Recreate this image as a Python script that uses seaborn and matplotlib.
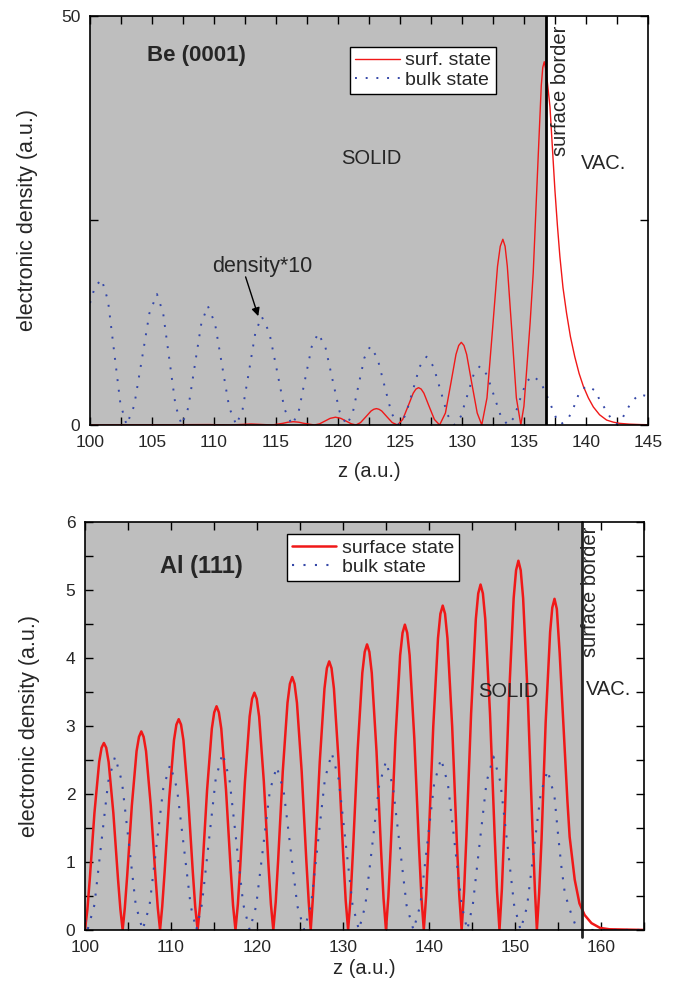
import numpy as np
import pandas as pd
import seaborn as sns
import matplotlib.pyplot as plt
from matplotlib.ticker import MultipleLocator

# ---- Be(0001): surface state (red) and bulk state x10 (blue)
be_surf_z = [100.0, 109.6, 111.3, 113.0, 114.7, 115.55, 115.97, 116.4, 116.83, 117.25, 118.1,
             118.52, 118.95, 119.37, 119.8, 120.23, 120.65, 121.08, 121.45,
             121.82, 122.25, 122.67, 122.89, 123.1, 123.31, 123.53, 123.95, 124.38, 124.8,
             125.22, 125.65, 126.07, 126.29, 126.5, 126.71, 126.93, 127.35, 127.78, 128.2,
             128.67, 129.1, 129.52, 129.74, 129.95, 130.16, 130.38, 130.8, 131.23, 131.6,
             132.02, 132.45, 132.87, 133.09, 133.3, 133.48, 133.66, 134.03, 134.39, 134.75,
             135.0, 135.2, 135.5, 135.75, 136.15, 136.4, 136.52, 136.64, 136.8, 137.1, 137.3,
             137.5, 137.7, 137.9, 138.15, 138.44, 138.75, 139.1, 139.45, 139.8, 140.2, 140.6,
             141.1, 141.67, 142.2, 142.7, 143.5, 144.35, 145.0]
be_surf_n = [0, 0.05, 0, 0.12, 0, 0.2, 0.34, 0.4, 0.34, 0.2, 0,
             0.14, 0.48, 0.81, 0.95, 0.81, 0.48, 0.14, 0,
             0.29, 1.0, 1.71, 1.92, 2.0, 1.92, 1.71, 1.0, 0.29, 0,
             0.67, 2.28, 3.89, 4.39, 4.56, 4.39, 3.89, 2.28, 0.67, 0,
             1.47, 5.05, 8.63, 9.72, 10.1, 9.72, 8.63, 5.05, 1.47, 0,
             3.31, 11.35, 19.39, 21.84, 22.7, 21.84, 19.39, 11.35, 3.31, 0,
             2.3, 6.3, 12.5, 18.6, 32.8, 41.5, 43.7, 44.4, 43.2, 38.9, 33.8,
             28.7, 24.4, 20.6, 16.8, 13.65, 10.8, 8.35, 6.3, 4.7, 3.3, 2.2,
             1.25, 0.6, 0.35, 0.2, 0.1, 0.05, 0.03]

be_bulk_z = [100.0, 100.4, 100.94, 101.45, 101.95, 102.45, 102.95,
             103.56, 104.18, 104.79, 105.4, 105.9, 106.4, 106.9, 107.4,
             107.93, 108.45, 108.98, 109.5, 110.08, 110.65, 111.23, 111.8,
             112.31, 112.83, 113.34, 113.85, 114.46, 115.08, 115.69, 116.3,
             116.83, 117.35, 117.88, 118.4, 118.98, 119.55, 120.13, 120.7,
             121.18, 121.65, 122.13, 122.6, 123.18, 123.75, 124.33, 124.9,
             125.46, 126.03, 126.59, 127.15, 127.71, 128.28, 128.84, 129.4,
             129.91, 130.43, 130.94, 131.45, 132.01, 132.58, 133.14, 133.7,
             134.2, 134.7, 135.2, 135.75, 136.4, 137.0, 137.6, 138.0,
             138.6, 139.0, 139.5, 140.1, 140.8, 141.1, 141.5, 142.0, 142.5,
             142.9, 143.3, 143.7, 144.3, 145.0]
be_bulk_n = [14.9, 16.9, 17.8, 15.2, 8.9, 2.6, 0,
             2.34, 8.0, 13.66, 16.0, 13.66, 8.0, 2.34, 0,
             2.12, 7.28, 12.43, 14.55, 12.43, 7.28, 2.12, 0,
             1.93, 6.63, 11.32, 13.25, 11.32, 6.63, 1.93, 0,
             1.64, 5.6, 9.56, 11.2, 9.56, 5.6, 1.64, 0,
             1.4, 4.8, 8.2, 9.6, 8.2, 4.8, 1.4, 0,
             1.22, 4.18, 7.13, 8.35, 7.13, 4.18, 1.22, 0,
             1.05, 3.6, 6.15, 7.2, 6.15, 3.6, 1.05, 0,
             0.9, 3.2, 5.3, 6.0, 5.1, 3.05, 0.85, 0.1,
             0.85, 2.1, 4.1, 4.8, 4.15, 3.05, 2.1, 0.85, 0.1,
             0.7, 1.85, 2.85, 3.75, 3.5]

# ---- Al(111)
al_surf_z = [100.0,
             100.28, 100.56, 101.1, 101.65, 101.93, 102.2, 102.47, 102.75, 103.3, 103.84, 104.12, 104.38,
             104.63, 104.91, 105.45, 106.0, 106.28, 106.55, 106.82, 107.1, 107.65, 108.19, 108.47, 108.73,
             108.98, 109.26, 109.8, 110.35, 110.63, 110.9, 111.17, 111.45, 112.0, 112.54, 112.82, 113.1,
             113.38, 113.66, 114.2, 114.75, 115.03, 115.3, 115.57, 115.85, 116.4, 116.94, 117.22, 117.5,
             117.78, 118.06, 118.6, 119.15, 119.43, 119.7, 119.97, 120.25, 120.8, 121.34, 121.62, 121.9,
             122.18, 122.46, 123.0, 123.55, 123.83, 124.1, 124.37, 124.65, 125.2, 125.74, 126.02, 126.25,
             126.48, 126.76, 127.3, 127.85, 128.13, 128.4, 128.67, 128.95, 129.5, 130.04, 130.32, 130.6,
             130.88, 131.16, 131.7, 132.25, 132.53, 132.8, 133.07, 133.35, 133.9, 134.44, 134.72, 135.0,
             135.28, 135.56, 136.1, 136.65, 136.93, 137.2, 137.47, 137.75, 138.3, 138.84, 139.12, 139.4,
             139.68, 139.96, 140.5, 141.05, 141.33, 141.6, 141.87, 142.15, 142.7, 143.24, 143.52, 143.8,
             144.08, 144.36, 144.9, 145.45, 145.73, 146.0, 146.27, 146.55, 147.1, 147.64, 147.92, 148.2,
             148.48, 148.76, 149.3, 149.85, 150.13, 150.4, 150.67, 150.95, 151.5, 152.04, 152.32, 152.55,
             152.81, 153.09, 153.57, 154.09, 154.34, 154.6, 154.87, 155.2, 155.5, 155.8, 156.1,
             156.36, 156.95, 157.5, 158.1, 158.9, 159.9, 161.0, 165.0]
al_surf_n = [0,
             0.30, 0.75, 1.72, 2.47, 2.68, 2.75, 2.68, 2.47, 1.72, 0.75, 0.30, 0,
             0.32, 0.80, 1.83, 2.63, 2.84, 2.92, 2.84, 2.63, 1.83, 0.80, 0.32, 0,
             0.34, 0.85, 1.94, 2.79, 3.02, 3.10, 3.02, 2.79, 1.94, 0.85, 0.34, 0,
             0.36, 0.90, 2.06, 2.96, 3.20, 3.29, 3.20, 2.96, 2.06, 0.90, 0.36, 0,
             0.38, 0.95, 2.18, 3.14, 3.40, 3.49, 3.40, 3.14, 2.18, 0.95, 0.38, 0,
             0.41, 1.02, 2.33, 3.34, 3.62, 3.72, 3.62, 3.34, 2.33, 1.02, 0.41, 0,
             0.43, 1.08, 2.47, 3.55, 3.85, 3.95, 3.85, 3.55, 2.47, 1.08, 0.43, 0,
             0.46, 1.15, 2.63, 3.78, 4.09, 4.20, 4.09, 3.78, 2.63, 1.15, 0.46, 0,
             0.49, 1.23, 2.81, 4.04, 4.37, 4.49, 4.37, 4.04, 2.81, 1.23, 0.49, 0,
             0.52, 1.30, 2.99, 4.29, 4.65, 4.77, 4.65, 4.29, 2.99, 1.30, 0.52, 0,
             0.56, 1.39, 3.18, 4.57, 4.95, 5.08, 4.95, 4.57, 3.18, 1.39, 0.56, 0,
             0.60, 1.48, 3.40, 4.88, 5.29, 5.43, 5.29, 4.88, 3.40, 1.48, 0.60, 0,
             0.54, 1.33, 3.05, 4.38, 4.74, 4.87, 4.72, 4.07, 3.35, 2.6, 1.9,
             1.37, 0.74, 0.39, 0.22, 0.1, 0.03, 0.01, 0.0]

al_bulk_z = [100.0, 100.3, 101.1, 101.9, 102.7, 103.5, 104.3, 105.1, 105.9, 106.7,
             107.5, 108.3, 109.1, 109.9, 110.7, 111.5, 112.3, 112.95,
             113.6, 114.4, 115.2, 116.0, 116.8, 117.6, 118.4, 119.15,
             119.9, 120.7, 121.5, 122.3, 123.1, 123.9, 124.7, 125.5,
             126.3, 127.1, 127.9, 128.7, 129.5, 130.3, 131.1, 131.85,
             132.6, 133.4, 134.2, 135.0, 135.8, 136.6, 137.4, 138.2,
             139.0, 139.8, 140.6, 141.4, 142.2, 143.0, 143.8, 144.45,
             145.1, 145.9, 146.7, 147.5, 148.3, 149.1, 149.9, 150.65,
             151.4, 152.2, 153.0, 153.8, 154.6, 155.0, 155.4, 155.8, 156.4, 156.95, 157.3, 165.0]
al_bulk_n = [0.15, 0, 0.37, 1.28, 2.18, 2.55, 2.18, 1.28, 0.37, 0,
             0.35, 1.22, 2.08, 2.43, 2.08, 1.22, 0.35, 0,
             0.38, 1.30, 2.22, 2.60, 2.22, 1.30, 0.38, 0,
             0.35, 1.20, 2.05, 2.40, 2.05, 1.20, 0.35, 0,
             0.38, 1.30, 2.22, 2.60, 2.22, 1.30, 0.38, 0,
             0.36, 1.24, 2.12, 2.48, 2.12, 1.24, 0.36, 0,
             0.37, 1.26, 2.15, 2.52, 2.15, 1.26, 0.37, 0,
             0.37, 1.28, 2.18, 2.55, 2.18, 1.28, 0.37, 0,
             0.34, 1.18, 2.01, 2.35, 1.96, 1.42, 0.93, 0.54, 0.29, 0.1, 0, 0]

be_border = 136.75
al_border = 157.8

sns.set_style("ticks")
plt.rcParams['font.family'] = ['Liberation Sans', 'DejaVu Sans']

RED = '#f01818'
BLUE = '#3548a8'
GREY = '#bebebe'
DOTS = (0, (1, 4.5))

fig = plt.figure(figsize=(6.82, 9.89), dpi=100)
ax1 = fig.add_axes([0.132, 0.5703, 0.818, 0.4136])
ax2 = fig.add_axes([0.1246, 0.0597, 0.8196, 0.4125])

be_surf = pd.DataFrame({'z': be_surf_z, 'n': be_surf_n})
be_bulk = pd.DataFrame({'z': be_bulk_z, 'n': be_bulk_n})
al_surf = pd.DataFrame({'z': al_surf_z, 'n': al_surf_n})
al_bulk = pd.DataFrame({'z': al_bulk_z, 'n': al_bulk_n})

# ---------------- top panel: Be (0001)
ax1.axvspan(100, be_border, color=GREY, lw=0, zorder=0)
sns.lineplot(data=be_surf, x='z', y='n', ax=ax1, color=RED, lw=1.0,
             estimator=None, sort=False, label='surf. state')
sns.lineplot(data=be_bulk, x='z', y='n', ax=ax1, color=BLUE, lw=1.4,
             linestyle=DOTS, estimator=None, sort=False, label='bulk state')
ax1.axvline(be_border, color='black', lw=2)
ax1.set_xlim(100, 145)
ax1.set_ylim(0, 50)
ax1.xaxis.set_major_locator(MultipleLocator(5))
ax1.xaxis.set_minor_locator(MultipleLocator(2.5))
ax1.set_yticks([0, 25, 50])
ax1.set_yticklabels(['0', '', '50'])

ax1.text(108.55, 45.2, 'Be (0001)', fontsize=16, fontweight='bold', ha='center', va='center')
ax1.text(122.7, 32.6, 'SOLID', fontsize=14.5, ha='center', va='center')
ax1.text(141.4, 32.0, 'VAC.', fontsize=14.5, ha='center', va='center')
ax1.text(137.95, 48.8, 'surface border', fontsize=14.5, rotation=90, ha='center', va='top')
ax1.text(113.9, 19.4, 'density*10', fontsize=15.5, ha='center', va='center')
ax1.annotate('', xy=(113.57, 13.3), xytext=(112.55, 18.1),
             arrowprops=dict(arrowstyle='-|>', color='black', lw=1,
                             mutation_scale=12, shrinkA=0, shrinkB=0))

leg1 = ax1.legend(loc='upper left', bbox_to_anchor=(0.466, 0.924), fontsize=14,
                  frameon=True, fancybox=False, framealpha=1, edgecolor='black',
                  handlelength=2.3, handletextpad=0.3, borderpad=0.25,
                  labelspacing=0.1, borderaxespad=0)
leg1.get_frame().set_linewidth(1)

# ---------------- bottom panel: Al (111)
ax2.axvspan(100, al_border, color=GREY, lw=0, zorder=0)
sns.lineplot(data=al_surf, x='z', y='n', ax=ax2, color=RED, lw=1.8,
             estimator=None, sort=False, label='surface state')
sns.lineplot(data=al_bulk, x='z', y='n', ax=ax2, color=BLUE, lw=1.5,
             linestyle=DOTS, estimator=None, sort=False, label='bulk state')
ax2.axvline(al_border, ymin=-0.018, ymax=1, color='#222222', lw=2, clip_on=False)
ax2.set_xlim(100, 165)
ax2.set_ylim(0, 6)
ax2.xaxis.set_major_locator(MultipleLocator(10))
ax2.xaxis.set_minor_locator(MultipleLocator(5))
ax2.yaxis.set_major_locator(MultipleLocator(1))
ax2.yaxis.set_minor_locator(MultipleLocator(0.5))

ax2.text(113.5, 5.34, 'Al (111)', fontsize=17, fontweight='bold', ha='center', va='center')
ax2.text(149.2, 3.51, 'SOLID', fontsize=14.5, ha='center', va='center')
ax2.text(160.9, 3.53, 'VAC.', fontsize=14.5, ha='center', va='center')
ax2.text(158.75, 5.93, 'surface border', fontsize=14.5, rotation=90, ha='center', va='top')

leg2 = ax2.legend(loc='upper left', bbox_to_anchor=(0.361, 0.97), fontsize=14,
                  frameon=True, fancybox=False, framealpha=1, edgecolor='black',
                  handlelength=2.3, handletextpad=0.3, borderpad=0.25,
                  labelspacing=0.1, borderaxespad=0)
leg2.get_frame().set_linewidth(1)

for ax, ylx, xly in [(ax1, -0.093, -0.09), (ax2, -0.080, -0.07)]:
    ax.set_xlabel('z (a.u.)', fontsize=14.5)
    ax.set_ylabel('electronic density (a.u.)', fontsize=15.5)
    ax.yaxis.set_label_coords(ylx, 0.5)
    ax.xaxis.set_label_coords(0.5, xly)
    ax.tick_params(which='both', direction='in', top=True, right=True,
                   length=6, width=1, labelsize=12.5, color='black')
    ax.tick_params(axis='x', pad=7)
    ax.tick_params(axis='y', pad=7)
    for s in ax.spines.values():
        s.set_color('black')
        s.set_linewidth(1.2)
        s.set_visible(True)

fig.savefig('out.png', dpi=100)
